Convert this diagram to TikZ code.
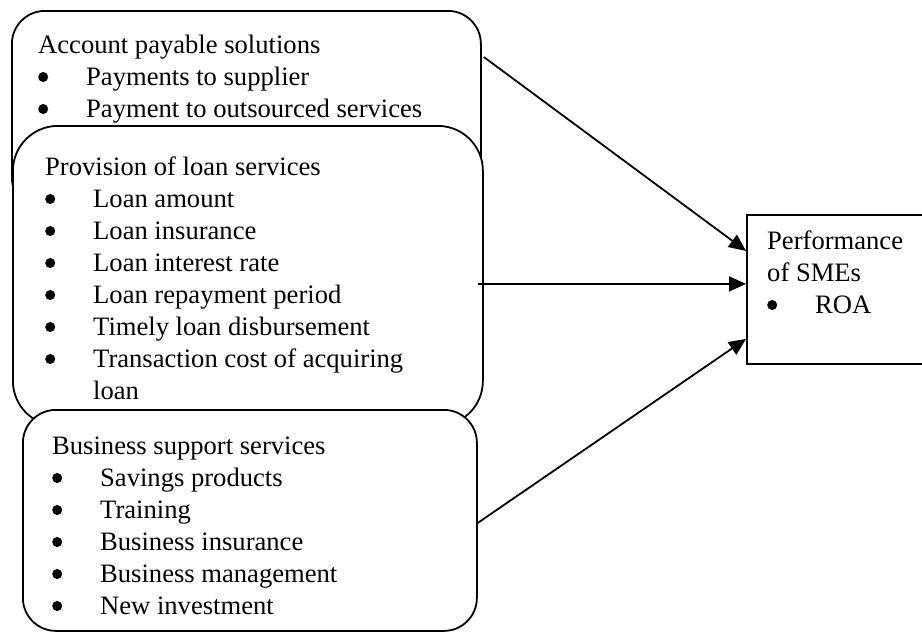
\documentclass[tikz,border=0pt]{standalone}
\usepackage{fontspec}
\setmainfont{Liberation Serif}
\usetikzlibrary{arrows.meta, calc}
\newcommand{\bitem}[1]{\makebox[48pt][l]{\tikz[baseline=0pt]\fill (0pt,8pt) circle (5pt);}#1}

\begin{document}
\begin{tikzpicture}[
        x=1pt, y=-1pt,
        frame/.style={draw, rectangle, fill=white, line width=1.8pt, anchor=north west, inner sep=0pt},
        txt/.style={anchor=base west, align=left, inner sep=0pt, font=\fontsize{26.6}{32}\selectfont},
        arrow/.style={-{Triangle[length=17pt, width=15pt]}, line width=1.8pt}
    ]
    \useasboundingbox (0,0) rectangle (922,632);
    \clip (0,0) rectangle (922,632);

    % base west of a block is its last line
    \node[frame, rounded corners=33pt, minimum width=469pt, minimum height=200pt] (Payable) at (11,10) {};
    \node[txt] (PayableText) at ($(Payable.north west)+(27,107)$) {Account payable solutions\\
        \bitem{Payments to supplier}\\
        \bitem{Payment to outsourced services}};

    \node[frame, rounded corners=45pt, minimum width=470pt, minimum height=300pt] (Loan) at (12,125) {};
    \node[txt] (LoanText) at ($(Loan.north west)+(33,274)$) {Provision of loan services\\
        \bitem{Loan amount}\\
        \bitem{Loan insurance}\\
        \bitem{Loan interest rate}\\
        \bitem{Loan repayment period}\\
        \bitem{Timely loan disbursement}\\
        \bitem{Transaction cost of acquiring}\\
        \hspace*{48pt}loan};

    \node[frame, rounded corners=33pt, minimum width=454pt, minimum height=221pt] (Support) at (22,409) {};
    \node[txt] (SupportText) at ($(Support.north west)+(30,205)$) {Business support services\\
        \bitem{Savings products}\\
        \bitem{Training}\\
        \bitem{Business insurance}\\
        \bitem{Business management}\\
        \bitem{New investment}};

    \node[frame, minimum width=200pt, minimum height=149pt] (Performance) at (746,214) {};
    \node[txt] (PerformanceText) at ($(Performance.north west)+(21,99)$) {Performance\\
        of SMEs\\
        \bitem{ROA}};

    \draw[arrow] ($(Payable.north east)+(2,47)$) -- ($(Performance.west)+(0,-38.5)$);
    \draw[arrow] ($(Loan.east)+(-6,8)$) -- ($(Performance.west)+(0,-5.5)$);
    \draw[arrow] ($(Support.east)+(0,2.5)$) -- ($(Performance.west)+(0,49.5)$);

\end{tikzpicture}
\end{document}
